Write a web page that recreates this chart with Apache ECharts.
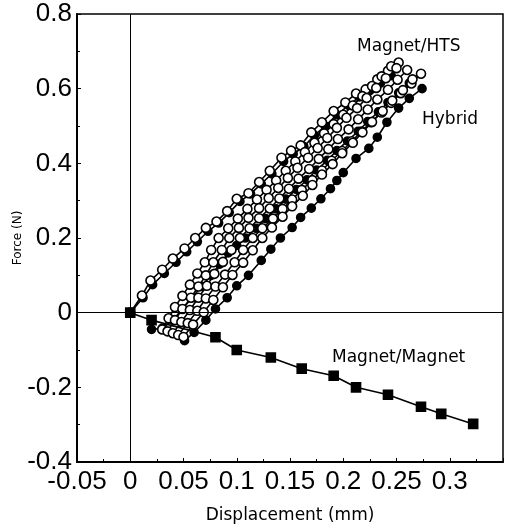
<!DOCTYPE html>
<html><head><meta charset="utf-8">
<script src="https://cdn.jsdelivr.net/npm/echarts@6/dist/echarts.min.js"></script>
<style>html,body{margin:0;padding:0;background:#fff}#c{width:506px;height:532px}</style>
</head><body><div id="c"></div>
<script>
// ---- tick labels ----
const xLabels = ['-0.05','0','0.05','0.1','0.15','0.2','0.25','0.3',''];
const yLabels = ['-0.4','-0.2','0','0.2','0.4','0.6','0.8'];
const noteTexts = ['Magnet/HTS','Hybrid','Magnet/Magnet'];

// ---- Magnet/Magnet (filled squares) ----
const magnetMagnet = [[0,0],[0.02,-0.02],[0.08,-0.066],[0.1,-0.1],[0.132,-0.12],[0.161,-0.15],[0.191,-0.169],[0.212,-0.2],[0.242,-0.22],[0.273,-0.252],[0.292,-0.271],[0.322,-0.298]];

// ---- Magnet/HTS (open circles) ----
const htsUpper = [[0,0],[0.011,0.046],[0.019,0.086],[0.03,0.115],[0.04,0.145],[0.051,0.172],[0.061,0.2],[0.071,0.227],[0.081,0.244],[0.091,0.272],[0.1,0.305],[0.111,0.32],[0.121,0.35],[0.131,0.38],[0.142,0.415],[0.151,0.434],[0.16,0.448],[0.17,0.483],[0.18,0.51],[0.191,0.54],[0.202,0.563],[0.212,0.587],[0.221,0.598],[0.232,0.625],[0.242,0.648],[0.252,0.67]];
const hts1 = [[0.03,-0.045],[0.036,-0.015],[0.042,0.015],[0.049,0.045],[0.056,0.075],[0.063,0.105],[0.07,0.135],[0.076,0.168],[0.083,0.2],[0.092,0.226],[0.101,0.252],[0.11,0.278],[0.119,0.303],[0.128,0.329],[0.137,0.354],[0.146,0.38],[0.155,0.405],[0.164,0.43],[0.173,0.455],[0.182,0.48],[0.191,0.505],[0.2,0.53],[0.209,0.555],[0.218,0.58],[0.227,0.607],[0.236,0.633],[0.245,0.66]];
const hts2 = [[0.035,-0.05],[0.042,-0.02],[0.049,0.01],[0.057,0.04],[0.064,0.07],[0.071,0.1],[0.078,0.135],[0.086,0.168],[0.093,0.2],[0.102,0.227],[0.111,0.254],[0.121,0.28],[0.13,0.307],[0.139,0.334],[0.148,0.361],[0.157,0.388],[0.167,0.415],[0.176,0.441],[0.185,0.468],[0.194,0.495],[0.203,0.522],[0.213,0.548],[0.222,0.575],[0.231,0.602],[0.24,0.628],[0.25,0.655]];
const hts3 = [[0.04,-0.055],[0.048,-0.025],[0.056,0.007],[0.064,0.04],[0.072,0.072],[0.079,0.104],[0.087,0.136],[0.095,0.168],[0.103,0.2],[0.112,0.226],[0.121,0.253],[0.131,0.279],[0.14,0.306],[0.149,0.332],[0.158,0.359],[0.168,0.385],[0.177,0.412],[0.186,0.438],[0.195,0.465],[0.205,0.491],[0.214,0.518],[0.223,0.544],[0.232,0.571],[0.242,0.597],[0.251,0.624],[0.26,0.65]];
const hts4 = [[0.045,-0.06],[0.054,-0.028],[0.063,0.005],[0.071,0.038],[0.08,0.07],[0.089,0.102],[0.098,0.135],[0.106,0.168],[0.115,0.2],[0.124,0.226],[0.134,0.252],[0.143,0.278],[0.152,0.303],[0.161,0.329],[0.171,0.355],[0.18,0.381],[0.189,0.407],[0.199,0.433],[0.208,0.459],[0.217,0.485],[0.226,0.51],[0.236,0.536],[0.245,0.562],[0.254,0.588],[0.264,0.614],[0.273,0.64]];
const hts5 = [[0.05,-0.065],[0.059,-0.032],[0.069,0.001],[0.078,0.034],[0.087,0.068],[0.096,0.101],[0.106,0.134],[0.115,0.167],[0.124,0.2],[0.133,0.228],[0.143,0.257],[0.152,0.285],[0.162,0.313],[0.171,0.342],[0.18,0.37],[0.19,0.398],[0.199,0.427],[0.209,0.455],[0.218,0.483],[0.227,0.511],[0.237,0.54],[0.246,0.568],[0.256,0.596],[0.265,0.625]];

// ---- Hybrid (filled circles) ----
const hybUpper = [[0,0],[0.012,0.04],[0.021,0.075],[0.032,0.105],[0.043,0.135],[0.053,0.163],[0.063,0.19],[0.073,0.218],[0.083,0.24],[0.093,0.268],[0.103,0.298],[0.113,0.318],[0.123,0.345],[0.133,0.372],[0.144,0.405],[0.153,0.425],[0.163,0.445],[0.173,0.475],[0.183,0.5],[0.194,0.53],[0.205,0.555],[0.215,0.578],[0.225,0.595],[0.235,0.615],[0.245,0.635]];
const hyb1 = [[0.02,-0.045],[0.03,-0.042],[0.04,-0.02],[0.049,0.01],[0.058,0.04],[0.067,0.07],[0.076,0.1],[0.084,0.13],[0.092,0.16],[0.1,0.18],[0.108,0.2],[0.118,0.226],[0.127,0.252],[0.137,0.278],[0.146,0.304],[0.156,0.33],[0.166,0.356],[0.175,0.382],[0.185,0.408],[0.194,0.434],[0.204,0.46],[0.214,0.486],[0.223,0.512],[0.233,0.538],[0.242,0.563],[0.252,0.589],[0.262,0.615]];
const hyb2 = [[0.051,-0.075],[0.06,-0.053],[0.071,-0.02],[0.08,0.01],[0.091,0.04],[0.1,0.072],[0.111,0.1],[0.123,0.14],[0.132,0.17],[0.141,0.2],[0.152,0.228],[0.16,0.255],[0.17,0.28],[0.179,0.305],[0.188,0.332],[0.194,0.354],[0.2,0.375],[0.212,0.413],[0.224,0.44],[0.232,0.47],[0.241,0.51],[0.252,0.548],[0.262,0.574],[0.274,0.6]];

const hybridLines = [hybUpper, hyb1, hyb2];
const htsLines = [htsUpper, hts1, hts2, hts3, hts4, hts5];

function mkLine(name, data, symbol, fill, size) {
  return {
    name: name, type: 'line', data: data, symbol: symbol, symbolSize: size,
    showAllSymbol: true, animation: false, silent: true,
    lineStyle: { color: '#000', width: 1.6 },
    itemStyle: { color: fill, borderColor: '#000', borderWidth: 1.6 },
    z: 3
  };
}

const series = [];
// zero reference lines
series.push({
  type: 'line', data: [], silent: true, animation: false,
  markLine: {
    symbol: 'none', silent: true, animation: false, label: { show: false },
    lineStyle: { color: '#000', width: 1, type: 'solid' },
    data: [{ xAxis: 0 }, { yAxis: 0 }]
  }, z: 1
});
hybridLines.forEach(d => series.push(mkLine('Hybrid', d, 'circle', '#000', 8)));
htsLines.forEach(d => series.push(mkLine('Magnet/HTS', d, 'circle', '#fff', 9)));
series.push(mkLine('Magnet/Magnet', magnetMagnet, 'rect', '#000', 9));

const tickFont = { fontFamily: "'Liberation Sans', Arial, sans-serif", fontSize: 26, color: '#000' };
const textFont = "'DejaVu Sans', sans-serif";

const chart = echarts.init(document.getElementById('c'), null, { renderer: 'canvas' });
chart.setOption({
  backgroundColor: '#fff',
  animation: false,
  grid: { left: 77, right: 3, top: 14, bottom: 70, show: true, borderColor: '#000', borderWidth: 1.5, containLabel: false },
  xAxis: {
    type: 'value', min: -0.05, max: 0.35, interval: 0.05,
    name: 'Displacement (mm)', nameLocation: 'middle', nameGap: 45, nameMoveOverlap: false,
    nameTextStyle: { fontFamily: textFont, fontSize: 17, color: '#000' },
    axisLine: { show: true, onZero: false, lineStyle: { color: '#000', width: 2 } },
    axisTick: { show: true, inside: true, length: 4, lineStyle: { color: '#000', width: 1 } },
    minorTick: { show: true, splitNumber: 2, length: 3, lineStyle: { color: '#000' } },
    splitLine: { show: false },
    axisLabel: Object.assign({ margin: 7, formatter: (v, i) => xLabels[i] }, tickFont)
  },
  yAxis: {
    type: 'value', min: -0.4, max: 0.8, interval: 0.2,
    name: 'Force (N)', nameLocation: 'middle', nameGap: 53, nameMoveOverlap: false,
    nameTextStyle: { fontFamily: textFont, fontSize: 12, color: '#000' },
    axisLine: { show: true, onZero: false, lineStyle: { color: '#000', width: 2 } },
    axisTick: { show: true, inside: true, length: 4, lineStyle: { color: '#000', width: 1 } },
    minorTick: { show: true, splitNumber: 2, length: 3, lineStyle: { color: '#000' } },
    splitLine: { show: false },
    axisLabel: Object.assign({ margin: 5, formatter: (v, i) => yLabels[i] }, tickFont)
  },
  graphic: [
    { type: 'text', left: 357, top: 38, style: { text: noteTexts[0], font: "17px 'DejaVu Sans', sans-serif", fill: '#000' } },
    { type: 'text', left: 422, top: 111, style: { text: noteTexts[1], font: "17px 'DejaVu Sans', sans-serif", fill: '#000' } },
    { type: 'text', left: 332, top: 349, style: { text: noteTexts[2], font: "17px 'DejaVu Sans', sans-serif", fill: '#000' } }
  ],
  series: series
});
</script>
</body></html>
